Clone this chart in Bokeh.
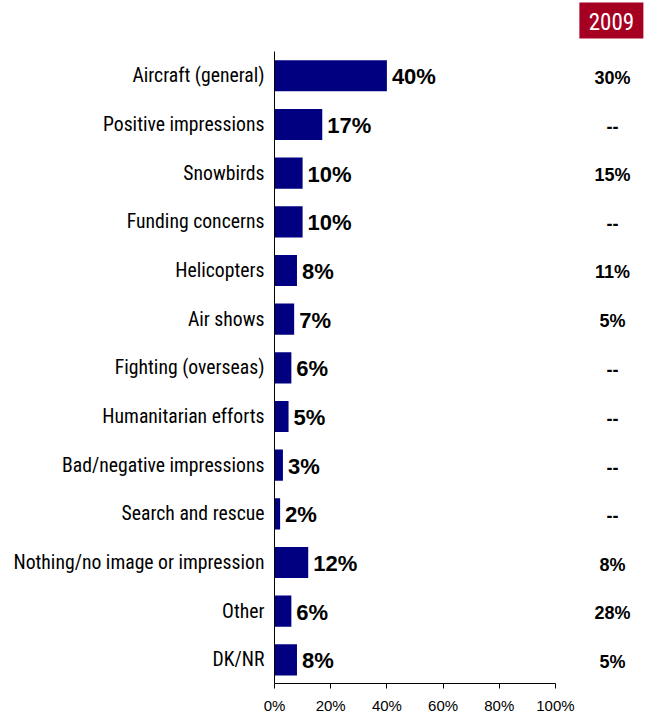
from bokeh.plotting import figure
from bokeh.models import Range1d, FixedTicker, ColumnDataSource
from bokeh.core.properties import value
from bokeh.embed import file_html
from bokeh.resources import INLINE

categories = ["Aircraft (general)", "Positive impressions", "Snowbirds", "Funding concerns",
              "Helicopters", "Air shows", "Fighting (overseas)", "Humanitarian efforts",
              "Bad/negative impressions", "Search and rescue", "Nothing/no image or impression",
              "Other", "DK/NR"]
values_2011 = [40, 17, 10, 10, 8, 7, 6, 5, 3, 2, 12, 6, 8]
values_2009 = ["30%", "--", "15%", "--", "11%", "5%", "--", "--", "--", "--", "8%", "28%", "5%"]
header_2009 = "2009"
x_ticks = [0, 20, 40, 60, 80, 100]

NARROW = "'Liberation Sans Narrow', 'Arial Narrow', 'Roboto Condensed', 'DejaVu Sans Condensed', sans-serif"
ARIAL = "'Liberation Sans', Arial, sans-serif"

rows = list(range(len(categories)))
col_2009 = 120.3
head_x = 119.9
head_y = -1.136

src = ColumnDataSource(dict(
    y=rows, v=values_2011, lab=[f"{v}%" for v in values_2011],
    prev=values_2009, cx=[col_2009] * len(rows),
))

p = figure(width=646, height=717, output_backend="svg", toolbar_location=None,
           x_range=Range1d(0, 132.4), y_range=Range1d(12.486, -1.547),
           min_border_left=274, min_border_right=0, min_border_top=0, min_border_bottom=34)
p.outline_line_color = None
p.grid.grid_line_color = None
p.background_fill_color = "white"
p.border_fill_color = "white"

p.hbar(y="y", right="v", left=0, height=0.64, source=src, fill_color="#000080", line_color=None)
p.text(x="v", y="y", text="lab", source=src, x_offset=5, y_offset=1, text_baseline="middle",
       text_align="left", text_font=value(ARIAL), text_font_size="22px", text_font_style="bold",
       text_color="black")
p.text(x="cx", y="y", text="prev", source=src, y_offset=2, text_baseline="middle", text_align="center",
       text_font=value(ARIAL), text_font_size="18px", text_font_style="bold", text_color="black")

# 2009 header box
p.rect(x=[head_x], y=[head_y], width=64, height=36, width_units="screen", height_units="screen",
       fill_color="#A50021", line_color=None)
p.text(x=[head_x], y=[head_y], text=[header_2009], text_align="center", text_baseline="middle",
       y_offset=1, text_font=value(NARROW), text_font_size="23px", text_color="white")

xa = p.xaxis[0]
xa.ticker = FixedTicker(ticks=x_ticks)
xa.bounds = (0, 100)
xa.major_label_overrides = {t: f"{t}%" for t in x_ticks}
xa.major_tick_out = 5
xa.major_tick_in = 0
xa.minor_tick_out = 0
xa.minor_tick_in = 0
xa.major_label_standoff = 8
xa.major_label_text_font = ARIAL
xa.major_label_text_font_size = "15px"
xa.major_label_text_color = "black"
xa.axis_line_color = "black"
xa.major_tick_line_color = "black"

ya = p.yaxis[0]
ya.ticker = FixedTicker(ticks=rows)
ya.bounds = (-0.5, 12.5)
ya.major_label_overrides = {i: c for i, c in enumerate(categories)}
ya.major_tick_out = 0
ya.major_tick_in = 0
ya.minor_tick_out = 0
ya.minor_tick_in = 0
ya.major_label_standoff = 10
ya.major_label_text_font = NARROW
ya.major_label_text_font_size = "19.7px"
ya.major_label_text_color = "black"
ya.axis_line_color = "black"

open("out.html", "w").write(file_html(p, INLINE))
